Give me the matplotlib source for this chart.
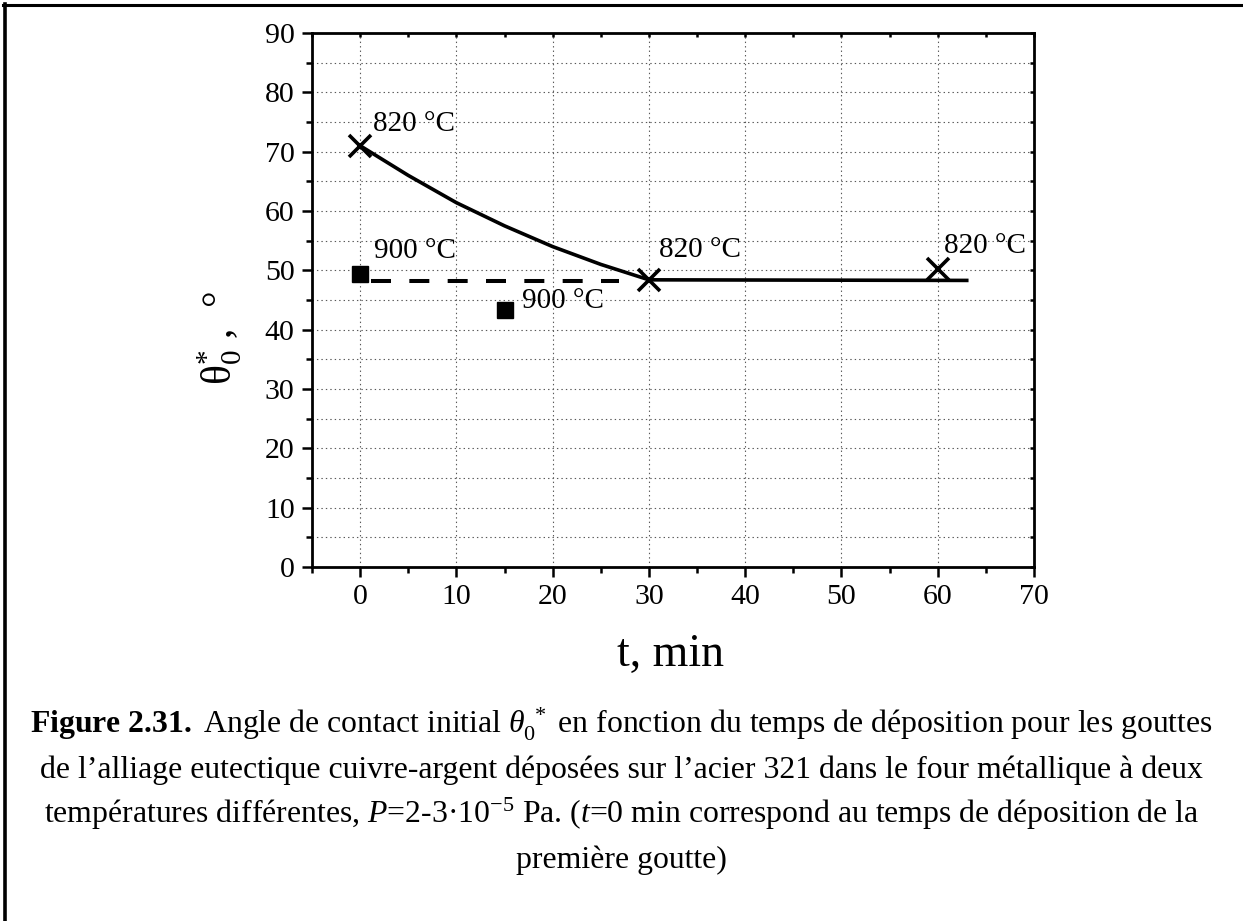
import matplotlib
matplotlib.use("Agg")
import matplotlib.pyplot as plt
from matplotlib.ticker import MultipleLocator
from matplotlib.lines import Line2D

plt.rcParams['font.family'] = ['Liberation Serif', 'DejaVu Serif']
plt.rcParams['mathtext.fontset'] = 'custom'
plt.rcParams['mathtext.rm'] = 'Liberation Serif'
plt.rcParams['mathtext.it'] = 'Liberation Serif:italic'
plt.rcParams['mathtext.bf'] = 'Liberation Serif:bold'
plt.rcParams['lines.scale_dashes'] = False

# ---- data ----
pts820_t = [0, 30, 60]
pts820_theta = [71.0, 48.4, 50.3]
pts900_t = [0, 15]
pts900_theta = [49.3, 43.3]

# solid trend line
fit820_t = [0, 5, 10, 15, 20, 25, 30, 63.2]
fit820_theta = [71.0, 66.0, 61.4, 57.5, 54.0, 51.0, 48.4, 48.3]
# dashed trend line
fit900_t = [1.1, 26.9]
fit900_theta = [48.2, 48.2]

labels = ['820 °C', '820 °C', '820 °C', '900 °C', '900 °C']
label_t = [1.3, 31.05, 60.6, 1.45, 16.8]
label_theta = [73.4, 52.3, 52.9, 52.0, 43.6]

xticks = [0, 10, 20, 30, 40, 50, 60, 70]
yticks = [0, 10, 20, 30, 40, 50, 60, 70, 80, 90]

W, H = 1243, 921
fig = plt.figure(figsize=(W / 100, H / 100), dpi=100)
ax = fig.add_axes([312 / W, 1 - 567 / H, (1034 - 312) / W, (567 - 33) / H])

ax.set_xlim(-5, 70)
ax.set_ylim(0, 90)
ax.set_xticks(xticks)
ax.set_yticks(yticks)
ax.xaxis.set_minor_locator(MultipleLocator(5))
ax.yaxis.set_minor_locator(MultipleLocator(5))

grid_kw = dict(color='0.35', linewidth=0.8, linestyle=(0, (1, 2.2)))
ax.grid(True, which='major', axis='x', **grid_kw)
ax.grid(True, which='both', axis='y', **grid_kw)
ax.set_axisbelow(True)

for s in ax.spines.values():
    s.set_linewidth(2.0)

ax.tick_params(which='major', direction='out', length=7.5, width=1.8,
               labelsize=21.5, pad=5)
ax.tick_params(which='minor', direction='out', length=4.5, width=1.8)
ax.tick_params(which='both', top=True, right=True)
# opposite axis ticks are short and inward
for tl in ax.xaxis.get_major_ticks() + ax.xaxis.get_minor_ticks():
    tl.tick2line.set_marker(3)
    tl.tick2line.set_markersize(3)
for tl in ax.yaxis.get_major_ticks() + ax.yaxis.get_minor_ticks():
    tl.tick2line.set_marker(0)
    tl.tick2line.set_markersize(3)

ax.plot(fit820_t, fit820_theta, color='black', linewidth=2.6, solid_capstyle='butt', zorder=3)
ax.plot(fit900_t, fit900_theta, color='black', linewidth=2.9,
        dashes=(14.4, 13.2), dash_capstyle='butt', zorder=3)
ax.plot(pts820_t, pts820_theta, linestyle='none', marker='x', markersize=15.5,
        markeredgewidth=2.6, color='black', zorder=4, clip_on=False)
ax.plot(pts900_t, pts900_theta, linestyle='none', marker='s', markersize=11.3,
        color='black', zorder=4, clip_on=False)

for txt, tx, ty in zip(labels, label_t, label_theta):
    ax.text(tx, ty, txt, fontsize=21, ha='left', va='baseline', zorder=5)

# axis titles
fig.text(671 / W, 1 - 666 / H, 't, min', fontsize=33, ha='center', va='baseline')
fig.text(232 / W, 1 - 338 / H, r'$\mathrm{\theta}_{0}^{*}$ ,  °', fontsize=30,
         rotation=90, rotation_mode='anchor', ha='center', va='baseline')

# caption
cap = [
    r'$\mathbf{Figure\ 2.31.\ }$Angle de contact initial $\theta_0^{\ *}$ en fonction du temps de déposition pour les gouttes',
    'de l’alliage eutectique cuivre-argent déposées sur l’acier 321 dans le four métallique à deux',
    r'températures différentes, $P$=2-3·10$^{\mathrm{-5}}$ Pa. ($t$=0 min correspond au temps de déposition de la',
    'première goutte)',
]
cap_base = [733, 778, 823, 868]
for line, yb in zip(cap, cap_base):
    fig.text(0.5, 1 - yb / H, line, fontsize=22.9, ha='center', va='baseline')

# page frame (top and left edges visible)
fig.add_artist(Line2D([3 / W, 1.0], [1 - 5 / H, 1 - 5 / H], transform=fig.transFigure,
                      color='black', linewidth=2.2))
fig.add_artist(Line2D([5 / W, 5 / W], [1 - 4 / H, 0.0], transform=fig.transFigure,
                      color='black', linewidth=2.6))

fig.savefig('out.png', dpi=100)
